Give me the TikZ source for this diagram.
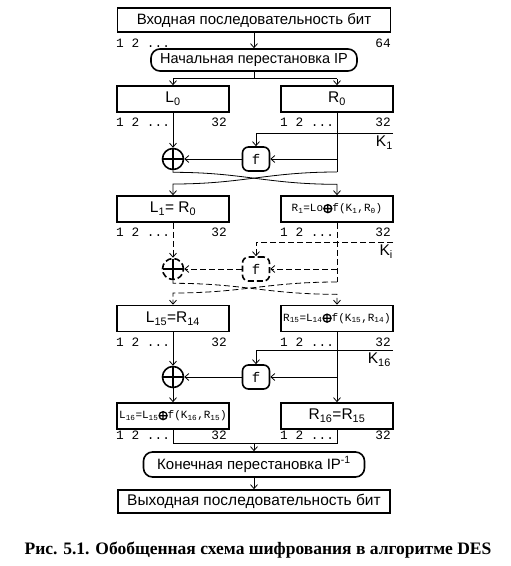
\documentclass[tikz,border=0pt]{standalone}
\usepackage{fontspec}
\setmainfont{Liberation Sans}
\newfontfamily\monofont{Liberation Mono}
\newfontfamily\capfont{Liberation Serif}
\usetikzlibrary{arrows.meta,calc}
\newcommand{\bxor}{\tikz[baseline=-3.2pt]{\draw[line width=1.3pt] (0pt,0pt) circle (4pt) (-4pt,0pt) -- (4pt,0pt) (0pt,-4pt) -- (0pt,4pt);}}
\tikzset{
  blk/.style={draw, rectangle, line width=1.6pt, minimum height=24pt, inner sep=1pt, font=\fontsize{15}{17}\selectfont},
  rblk/.style={blk, rounded corners=9pt},
  half/.style={blk, minimum width=112pt, minimum height=26pt, font=\fontsize{15.5}{17}\selectfont},
  fml/.style={half, inner sep=0pt, font=\monofont\fontsize{11}{13}\selectfont},
  num/.style={font=\monofont\fontsize{12.8}{13}\selectfont, inner sep=0pt},
  fblk/.style={draw, rectangle, rounded corners=6pt, line width=1.6pt, minimum width=27pt, minimum height=24pt, inner sep=0pt, font=\monofont\fontsize{14}{14}\selectfont},
  xorn/.style={draw, circle, line width=1.6pt, minimum size=21pt, inner sep=0pt,
    path picture={\draw[line width=1.6pt, solid] (path picture bounding box.north) -- (path picture bounding box.south)
      (path picture bounding box.west) -- (path picture bounding box.east);}},
  klbl/.style={font=\fontsize{15.5}{17}\selectfont, inner sep=0pt},
  arr/.style={-{Straight Barb[length=4pt,width=7pt]}, line width=0.8pt},
  ln/.style={line width=0.8pt},
  dsh/.style={dash pattern=on 6pt off 3pt},
}
\begin{document}
\begin{tikzpicture}[x=1pt,y=-1pt]
\useasboundingbox (0,0) rectangle (511,566);

% input and initial permutation
\node[blk, minimum width=273pt] (in) at (254,20) {Входная последовательность бит};
\node[num, anchor=west] (n1) at (116,43) {1 2 ...};
\node[num, anchor=east] (n64) at (391,43) {64};
\node[rblk, minimum width=206pt, minimum height=22pt, font=\fontsize{14.5}{16}\selectfont] (ip) at (254,60) {Начальная перестановка IP};

% round 1
\node[half] (L0) at (173,99) {L\textsubscript{0}};
\node[half] (R0) at (337,99) {R\textsubscript{0}};
\node[xorn] (x1) at (173,159) {};
\node[fblk] (f1) at (256,159) {f};
\coordinate (k1) at (393,133);
\node[klbl, anchor=north east] (lk1) at (393,136) {K\textsubscript{1}};
\coordinate (r1) at (337,172);

% round 2 (dashed)
\node[half] (L1) at (173,209) {L\textsubscript{1}= R\textsubscript{0}};
\node[fml] (R1) at (337,209) {R\textsubscript{1}=Lo\bxor f(K\textsubscript{1},R\textsubscript{0})};
\node[xorn, dsh] (xi) at (173,269) {};
\node[fblk, dsh] (fi) at (256,269) {f};
\coordinate (ki) at (393,242);
\node[klbl, anchor=north east] (lki) at (393,245) {K\textsubscript{i}};
\coordinate (ri) at (337,282);

% round 16
\node[half] (L15) at (173,318.5) {L\textsubscript{15}=R\textsubscript{14}};
\node[fml] (R15) at (337,318.5) {R\textsubscript{15}=L\textsubscript{14}\bxor f(K\textsubscript{15},R\textsubscript{14})};
\node[xorn] (x16) at (173,377) {};
\node[fblk] (f16) at (256,377) {f};
\coordinate (k16) at (393,350);
\node[klbl, anchor=north east] (lk16) at (391,353) {K\textsubscript{16}};
\node[fml] (L16) at (173,416) {L\textsubscript{16}=L\textsubscript{15}\bxor f(K\textsubscript{16},R\textsubscript{15})};
\node[half] (R16) at (337,416) {R\textsubscript{16}=R\textsubscript{15}};

% final permutation and output
\coordinate (jn) at (254,443);
\node[rblk, minimum width=221pt, minimum height=25pt] (fp) at (254,464.5) {Конечная перестановка IP\textsuperscript{-1}};
\node[blk, minimum width=272pt, minimum height=23pt, font=\fontsize{15.5}{17}\selectfont] (out) at (254,501.5) {Выходная последовательность бит};
\node[font=\capfont\bfseries\fontsize{17.5}{19}\selectfont, inner sep=0pt] (cap) at (258,550) {Рис. 5.1. Обобщенная схема шифрования в алгоритме DES};

% bit numbers under the halves
\foreach \row/\yy in {a/122, b/232, c/342, d/435} {
  \node[num, anchor=west] (nla\row) at (116,\yy) {1 2 ...};
  \node[num, anchor=east] (nlb\row) at (227,\yy) {32};
  \node[num, anchor=west] (nra\row) at (280,\yy) {1 2 ...};
  \node[num, anchor=east] (nrb\row) at (391,\yy) {32};
}

% connectors
\draw[arr] (in) -- (ip);
\draw[ln] (ip.south) -- ++(0,7) coordinate (sp);
\draw[ln] (L0.north |- sp) -- (R0.north |- sp);
\draw[arr] (L0.north |- sp) -- (L0);
\draw[arr] (R0.north |- sp) -- (R0);

\draw[arr] (L0) -- (x1);
\draw[ln] (R0.south) -- (r1);
\draw[arr] (k1) -| (f1);
\draw[arr] (R0 |- f1) -- (f1);
\draw[arr] (f1) -- (x1);
\draw[arr] (x1.south) -- ++(0,2) .. controls +(70,0) and +(-70,0) .. ++(164,12) -- (R1);
\draw[arr] (r1) .. controls +(-70,0) and +(70,0) .. ++(-164,12) -- (L1);

\draw[arr, dsh] (L1) -- (xi);
\draw[ln, dsh] (R1.south) -- (ri);
\draw[arr, dsh] (ki) -| (fi);
\draw[arr, dsh] (R1 |- fi) -- (fi);
\draw[arr, dsh] (fi) -- (xi);
\draw[arr, dsh] (xi.south) -- ++(0,3) .. controls +(70,0) and +(-70,0) .. ++(164,11) -- (R15);
\draw[arr, dsh] (ri) .. controls +(-70,0) and +(70,0) .. ++(-164,11) -- (L15);

\draw[arr] (L15) -- (x16);
\draw[arr] (R15) -- (R16);
\draw[arr] (k16) -| (f16);
\draw[arr] (R15 |- f16) -- (f16);
\draw[arr] (f16) -- (x16);
\draw[arr] (x16) -- (L16);

\draw[ln] (L16.south) -- (L16.south |- jn) -- (R16.south |- jn) -- (R16.south);
\draw[arr] (jn) -- (fp);
\draw[arr] (fp) -- (out);
\end{tikzpicture}
\end{document}
